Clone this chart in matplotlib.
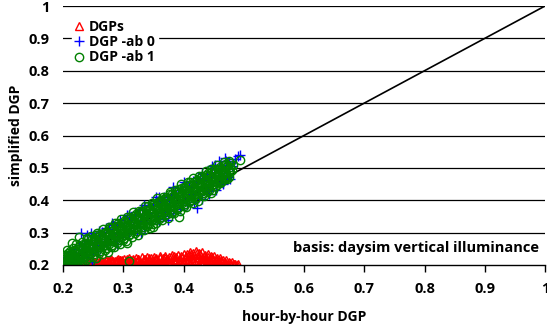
import matplotlib
matplotlib.use("Agg")
import matplotlib.pyplot as plt
from matplotlib.lines import Line2D

plt.rcParams['font.family'] = ['Open Sans', 'DejaVu Sans']
plt.rcParams['font.weight'] = 'bold'

# ---- data: "DGP -ab 1" (green circles), read in strips across the cloud ----
green_xa = [0.201,0.206,0.212,0.216,0.221,0.227,0.231,0.236,0.242,0.246,0.251,0.257,0.261,0.266,0.272,0.276,0.281,0.287,0.291,0.296,
            0.302,0.306,0.311,0.317,0.321,0.326,0.332,0.336,0.341,0.347,0.351,0.356,0.362,0.366,0.371,0.377,0.381,0.386,0.392,0.396,
            0.401,0.407,0.411,0.416,0.422,0.426,0.431,0.437,0.441,0.446,0.452,0.456,0.461,0.467,0.471,0.476]
green_ya = [0.232,0.246,0.242,0.254,0.265,0.260,0.272,0.266,0.280,0.289,0.284,0.298,0.297,0.311,0.303,0.317,0.316,0.331,0.330,0.342,
            0.336,0.349,0.349,0.365,0.357,0.368,0.367,0.383,0.381,0.393,0.388,0.406,0.402,0.411,0.411,0.427,0.418,0.433,0.435,0.449,
            0.441,0.456,0.456,0.468,0.462,0.474,0.475,0.491,0.484,0.498,0.498,0.510,0.504,0.518,0.512,0.521]
green_xe = [0.203,0.208,0.213,0.218,0.223,0.228,0.233,0.238,0.243,0.248,0.253,0.258,0.263,0.268,0.273,0.278,0.283,0.288,0.293,0.298,
            0.303,0.308,0.313,0.318,0.323,0.328,0.333,0.338,0.343,0.348,0.353,0.358,0.363,0.368,0.373,0.378,0.383,0.388,0.393,0.398,
            0.403,0.408,0.413,0.418,0.423,0.428,0.433,0.438,0.443,0.448,0.453,0.458,0.463,0.468,0.473,0.478]
green_ye = [0.226,0.237,0.234,0.247,0.248,0.260,0.256,0.267,0.264,0.280,0.278,0.287,0.286,0.300,0.300,0.313,0.308,0.320,0.317,0.330,
            0.332,0.343,0.339,0.352,0.352,0.365,0.361,0.371,0.369,0.384,0.383,0.396,0.394,0.404,0.402,0.418,0.413,0.424,0.422,0.437,
            0.437,0.448,0.446,0.456,0.454,0.470,0.466,0.478,0.478,0.490,0.485,0.498,0.498,0.510,0.507,0.515]
green_xb = [0.200,0.204,0.209,0.214,0.219,0.224,0.229,0.234,0.238,0.243,0.248,0.253,0.258,0.263,0.268,0.273,0.278,0.283,0.288,0.293,
            0.298,0.303,0.308,0.313,0.318,0.323,0.328,0.333,0.338,0.343,0.348,0.353,0.358,0.363,0.368,0.373,0.378,0.383,0.388,0.393,
            0.398,0.403,0.408,0.413,0.418,0.423,0.428,0.433,0.438,0.443,0.448,0.453,0.458,0.463,0.468,0.473,0.478,0.482]
green_yb = [0.218,0.215,0.230,0.228,0.239,0.234,0.247,0.248,0.260,0.255,0.266,0.277,0.272,0.284,0.280,0.297,0.296,0.306,0.302,0.319,
            0.315,0.325,0.322,0.339,0.337,0.347,0.344,0.361,0.356,0.367,0.364,0.381,0.380,0.390,0.386,0.403,0.399,0.409,0.406,0.423,
            0.421,0.431,0.428,0.445,0.440,0.451,0.448,0.465,0.464,0.474,0.470,0.487,0.483,0.493,0.490,0.505,0.503,0.509]
green_xf = [0.205,0.210,0.215,0.220,0.225,0.230,0.235,0.240,0.245,0.250,0.255,0.260,0.265,0.270,0.275,0.280,0.285,0.290,0.295,0.300,
            0.305,0.310,0.315,0.320,0.325,0.330,0.335,0.340,0.345,0.350,0.355,0.360,0.365,0.370,0.375,0.380,0.385,0.390,0.395,0.400,
            0.405,0.410,0.415,0.420,0.425,0.430,0.435,0.440,0.445,0.450,0.455,0.460,0.465,0.470,0.475,0.480]
green_yf = [0.212,0.211,0.225,0.223,0.234,0.230,0.243,0.243,0.257,0.253,0.263,0.262,0.276,0.276,0.288,0.282,0.296,0.298,0.310,0.305,
            0.316,0.315,0.329,0.327,0.340,0.339,0.349,0.345,0.360,0.361,0.373,0.368,0.379,0.378,0.391,0.391,0.403,0.398,0.413,0.411,
            0.421,0.421,0.436,0.433,0.443,0.441,0.455,0.455,0.466,0.461,0.474,0.474,0.486,0.484,0.494,0.493]
green_xc = [0.202,0.207,0.211,0.217,0.222,0.226,0.232,0.237,0.241,0.247,0.252,0.256,0.262,0.267,0.271,0.277,0.282,0.286,0.292,0.297,
            0.301,0.307,0.312,0.316,0.322,0.327,0.331,0.337,0.342,0.346,0.352,0.357,0.361,0.367,0.372,0.376,0.382,0.387,0.391,0.397,
            0.402,0.406,0.412,0.417,0.421,0.427,0.432,0.436,0.442,0.447,0.451,0.457,0.462,0.466,0.472,0.477]
green_yc = [0.202,0.204,0.202,0.216,0.212,0.222,0.221,0.236,0.234,0.248,0.243,0.255,0.255,0.268,0.262,0.276,0.275,0.289,0.288,0.299,
            0.293,0.308,0.308,0.320,0.316,0.328,0.327,0.343,0.340,0.350,0.347,0.361,0.359,0.373,0.369,0.380,0.380,0.395,0.392,0.404,
            0.399,0.412,0.413,0.426,0.420,0.433,0.433,0.447,0.445,0.456,0.451,0.466,0.465,0.477,0.475,0.486]
green_xg = [0.212,0.217,0.222,0.227,0.232,0.237,0.242,0.247,0.252,0.257,0.262,0.267,0.272,0.277,0.282,0.287,0.292,0.297,0.302,0.307,
            0.312,0.317,0.322,0.327,0.332,0.337,0.342,0.347,0.352,0.357,0.362,0.367,0.372,0.377,0.382,0.387,0.392,0.397,0.402,0.407,
            0.412,0.417,0.422,0.427,0.432,0.437,0.442,0.447,0.452,0.457,0.462,0.467,0.472]
green_yg = [0.201,0.204,0.203,0.213,0.212,0.225,0.223,0.236,0.233,0.245,0.243,0.258,0.254,0.265,0.262,0.278,0.276,0.287,0.284,0.299,
            0.297,0.308,0.305,0.321,0.317,0.329,0.326,0.341,0.339,0.350,0.347,0.363,0.359,0.371,0.368,0.384,0.380,0.392,0.389,0.405,
            0.401,0.413,0.410,0.426,0.422,0.434,0.431,0.447,0.445,0.456,0.455,0.467,0.466]
green_xd = [0.224,0.229,0.235,0.239,0.244,0.250,0.254,0.259,0.265,0.269,0.274,0.280,0.284,0.289,0.295,0.299,0.304,0.310,0.314,0.319,
            0.325,0.329,0.334,0.340,0.344,0.349,0.355,0.359,0.364,0.370,0.374,0.379,0.385,0.389,0.394,0.400,0.404,0.409,0.415,0.419,
            0.424,0.430,0.434,0.439,0.445,0.449,0.454,0.460,0.464,0.469,0.475]
green_yd = [0.202,0.203,0.203,0.215,0.210,0.225,0.222,0.238,0.235,0.246,0.241,0.257,0.256,0.268,0.264,0.276,0.275,0.292,0.287,0.299,
            0.294,0.308,0.309,0.322,0.315,0.328,0.329,0.343,0.339,0.353,0.346,0.361,0.362,0.373,0.368,0.382,0.380,0.395,0.393,0.404,
            0.398,0.415,0.414,0.426,0.421,0.433,0.445,0.453,0.459,0.466,0.471]
green_xo = [0.215,0.226,0.254,0.306,0.309,0.392,0.494,0.240,0.268,0.350,0.203,0.208,0.213,0.218,0.205,0.212]
green_yo = [0.267,0.287,0.293,0.267,0.213,0.349,0.524,0.283,0.300,0.318,0.209,0.221,0.207,0.224,0.200,0.235]

# ---- data: "DGP -ab 0" (blue crosses) ----
blue_x = [0.200,0.203,0.206,0.209,0.212,0.215,0.218,0.221,0.224,0.227,0.230,0.232,0.235,0.238,0.241,0.244,0.247,0.250,0.253,0.256,
          0.259,0.262,0.265,0.268,0.271,0.274,0.277,0.280,0.283,0.286,0.289,0.292,0.295,0.298,0.301,0.304,0.307,0.310,0.313,0.316,
          0.319,0.322,0.325,0.328,0.331,0.334,0.337,0.340,0.343,0.346,0.349,0.352,0.355,0.358,0.361,0.364,0.367,0.370,0.373,0.376,
          0.379,0.382,0.385,0.388,0.391,0.394,0.397,0.400,0.403,0.406,0.409,0.412,0.415,0.418,0.421,0.424,0.427,0.430,0.433,0.436,
          0.439,0.442,0.445,0.448,0.451,0.454,0.457,0.460,0.463,0.466,0.469,0.472,0.475,0.478,0.481,0.486,0.490,0.470,
          0.240,0.281,0.309,0.248,0.215,0.354,0.383,0.453,0.469,0.494,0.423,0.375,0.466,0.474,
          0.335,0.360,0.400,0.430,0.447,0.459,0.440,0.455,0.290,0.330,0.360,0.260]
blue_y = [0.205,0.198,0.225,0.212,0.240,0.205,0.232,0.248,0.218,0.262,0.300,0.238,0.268,0.225,0.275,0.252,0.300,0.240,0.285,0.262,
          0.298,0.248,0.302,0.275,0.315,0.262,0.310,0.290,0.325,0.275,0.318,0.300,0.340,0.285,0.330,0.312,0.355,0.295,0.345,0.322,
          0.365,0.305,0.358,0.335,0.372,0.318,0.370,0.348,0.385,0.330,0.382,0.360,0.398,0.342,0.392,0.372,0.410,0.352,0.405,0.385,
          0.420,0.362,0.415,0.395,0.432,0.372,0.428,0.405,0.445,0.385,0.440,0.418,0.458,0.395,0.452,0.430,0.470,0.405,0.462,0.440,
          0.482,0.418,0.475,0.452,0.495,0.432,0.488,0.465,0.505,0.450,0.498,0.478,0.515,0.465,0.505,0.528,0.538,0.522,
          0.293,0.330,0.354,0.210,0.200,0.411,0.442,0.509,0.530,0.539,0.375,0.339,0.453,0.472,
          0.385,0.410,0.455,0.485,0.505,0.520,0.430,0.455,0.265,0.300,0.335,0.305]

# ---- data: "DGPs" (red triangles), strips ----
red_x_top = [0.226,0.231,0.235,0.241,0.246,0.250,0.256,0.261,0.265,0.271,0.276,0.280,0.286,0.291,0.295,0.301,0.306,0.310,0.316,0.321,
             0.325,0.331,0.336,0.340,0.346,0.351,0.355,0.361,0.366,0.370,0.376,0.381,0.385,0.391,0.396,0.400,0.406,0.411,0.415,0.421,
             0.426,0.430,0.436,0.441,0.445,0.451,0.456,0.460,0.466,0.471,0.475,0.481,0.486,0.490]
red_y_top = [0.203,0.205,0.203,0.208,0.206,0.211,0.208,0.213,0.210,0.215,0.212,0.217,0.213,0.218,0.215,0.220,0.216,0.221,0.218,0.223,
             0.219,0.224,0.220,0.225,0.221,0.226,0.222,0.227,0.223,0.228,0.225,0.230,0.227,0.232,0.229,0.234,0.233,0.240,0.238,0.244,
             0.237,0.239,0.232,0.233,0.228,0.229,0.222,0.223,0.216,0.216,0.210,0.209,0.203,0.204]
red_x_up = [0.253,0.262,0.271,0.280,0.289,0.298,0.307,0.316,0.325,0.334,0.343,0.352,0.361,0.370,0.379,0.388,0.397,0.404,0.409,0.413,
            0.418,0.423,0.428,0.434,0.440,0.447,0.454,0.462]
red_y_up = [0.206,0.209,0.211,0.212,0.214,0.215,0.217,0.216,0.219,0.218,0.221,0.220,0.223,0.222,0.224,0.226,0.225,0.229,0.231,0.234,
            0.232,0.236,0.233,0.229,0.226,0.224,0.219,0.216]
red_x_mid = [0.238,0.244,0.249,0.253,0.259,0.264,0.268,0.274,0.279,0.283,0.289,0.294,0.298,0.304,0.309,0.313,0.319,0.324,0.328,0.334,
             0.339,0.343,0.349,0.354,0.358,0.364,0.369,0.373,0.379,0.384,0.388,0.394,0.399,0.403,0.409,0.414,0.418,0.424,0.429,0.433,
             0.439,0.444,0.448,0.454,0.459,0.463,0.469]
red_y_mid = [0.204,0.208,0.203,0.210,0.206,0.212,0.207,0.211,0.208,0.213,0.209,0.214,0.208,0.212,0.210,0.215,0.209,0.214,0.211,0.216,
             0.210,0.215,0.212,0.217,0.211,0.216,0.213,0.218,0.212,0.217,0.214,0.219,0.213,0.220,0.215,0.222,0.216,0.224,0.218,0.221,
             0.215,0.219,0.214,0.212,0.213,0.208,0.206]
red_x_lm = [0.232,0.239,0.246,0.253,0.260,0.267,0.274,0.281,0.288,0.295,0.302,0.309,0.316,0.323,0.330,0.337,0.344,0.351,0.358,0.365,
            0.372,0.379,0.386,0.393,0.400,0.407,0.414,0.421,0.428,0.435,0.442,0.449,0.456,0.463,0.470,0.477,0.484]
red_y_lm = [0.205,0.207,0.204,0.206,0.208,0.205,0.207,0.209,0.206,0.208,0.205,0.209,0.207,0.210,0.206,0.209,0.208,0.211,0.207,0.210,
            0.212,0.208,0.211,0.213,0.209,0.214,0.212,0.216,0.213,0.217,0.212,0.214,0.210,0.211,0.207,0.206,0.204]
red_x_low = [0.215,0.222,0.229,0.236,0.243,0.250,0.257,0.264,0.271,0.278,0.285,0.292,0.299,0.306,0.313,0.320,0.327,0.334,0.341,0.348,
             0.355,0.362,0.369,0.376,0.383,0.390,0.397,0.404,0.411,0.418,0.425,0.432,0.439,0.446,0.453,0.460,0.467,0.474,0.481,0.488]
red_y_low = [0.200,0.202,0.199,0.201,0.203,0.200,0.201,0.199,0.203,0.202,0.200,0.201,0.199,0.202,0.201,0.200,0.203,0.199,0.202,0.201,
             0.200,0.202,0.199,0.203,0.201,0.200,0.202,0.199,0.203,0.201,0.200,0.202,0.199,0.203,0.201,0.200,0.202,0.199,0.201,0.200]

diag = [0.0, 1.0]
ticks = [0.2, 0.3, 0.4, 0.5, 0.6, 0.7, 0.8, 0.9, 1.0]
tick_labels = ['0.2', '0.3', '0.4', '0.5', '0.6', '0.7', '0.8', '0.9', '1']
series_names = ['DGPs', 'DGP -ab 0', 'DGP -ab 1']

green_x = green_xa + green_xe + green_xb + green_xf + green_xc + green_xg + green_xd + green_xo
green_y = green_ya + green_ye + green_yb + green_yf + green_yc + green_yg + green_yd + green_yo
red_x = red_x_low + red_x_lm + red_x_mid + red_x_up + red_x_top
red_y = red_y_low + red_y_lm + red_y_mid + red_y_up + red_y_top

# ---- figure ----
fig = plt.figure(figsize=(5.47, 3.35), dpi=100)
ax = fig.add_axes([63/547, 1-265/335, (545-63)/547, (265-6)/335])
ax.set_xlim(0.2, 1.0)
ax.set_ylim(0.2, 1.0)

for t in ticks[1:]:
    ax.axhline(t, color='black', lw=0.9, zorder=1)

ax.plot(diag, diag, color='black', lw=1.2, zorder=2)

ms = 6
mew = 1.0
ax.plot(red_x, red_y, ls='none', marker='^', mfc='none', mec='red', mew=mew, ms=ms, zorder=3)
ax.plot(blue_x, blue_y, ls='none', marker='+', color='blue', mew=1.0, ms=ms + 1, zorder=4)
ax.plot(green_x, green_y, ls='none', marker='o', mfc='none', mec='green', mew=mew, ms=ms, zorder=5)

for s in ['top', 'right', 'left']:
    ax.spines[s].set_visible(False)
ax.spines['bottom'].set_color('black')
ax.spines['bottom'].set_linewidth(1.0)
ax.spines['bottom'].set_zorder(6)

ax.set_xticks(ticks)
ax.set_xticklabels(tick_labels, fontsize=10.5, fontweight='bold')
ax.set_yticks(ticks)
ax.set_yticklabels(tick_labels, fontsize=10.5, fontweight='bold')
ax.tick_params(axis='x', direction='out', length=5, width=1, pad=7)
ax.tick_params(axis='y', length=0, pad=10)

ax.set_xlabel('hour-by-hour DGP', fontsize=10, fontweight='bold', labelpad=10)
ax.set_ylabel('simplified DGP', fontsize=10, fontweight='bold', labelpad=4)

ax.text(0.99, 0.2525, 'basis: daysim vertical illuminance', ha='right', va='center',
        fontsize=10.5, fontweight='bold', zorder=6)

handles = [
    Line2D([], [], ls='none', marker='^', mfc='none', mec='red', mew=mew, ms=ms),
    Line2D([], [], ls='none', marker='+', color='blue', mew=1.0, ms=ms + 1),
    Line2D([], [], ls='none', marker='o', mfc='none', mec='green', mew=mew, ms=ms),
]
leg = ax.legend(handles, series_names, loc='upper left', bbox_to_anchor=(0.005, 0.985),
                frameon=True, fancybox=False, edgecolor='white', facecolor='white', framealpha=1,
                prop={'weight': 'bold', 'size': 10}, handlelength=0.6, handletextpad=0.4,
                labelspacing=0.1, borderpad=0.2)
leg.set_zorder(7)

fig.savefig('out.png', dpi=100)
